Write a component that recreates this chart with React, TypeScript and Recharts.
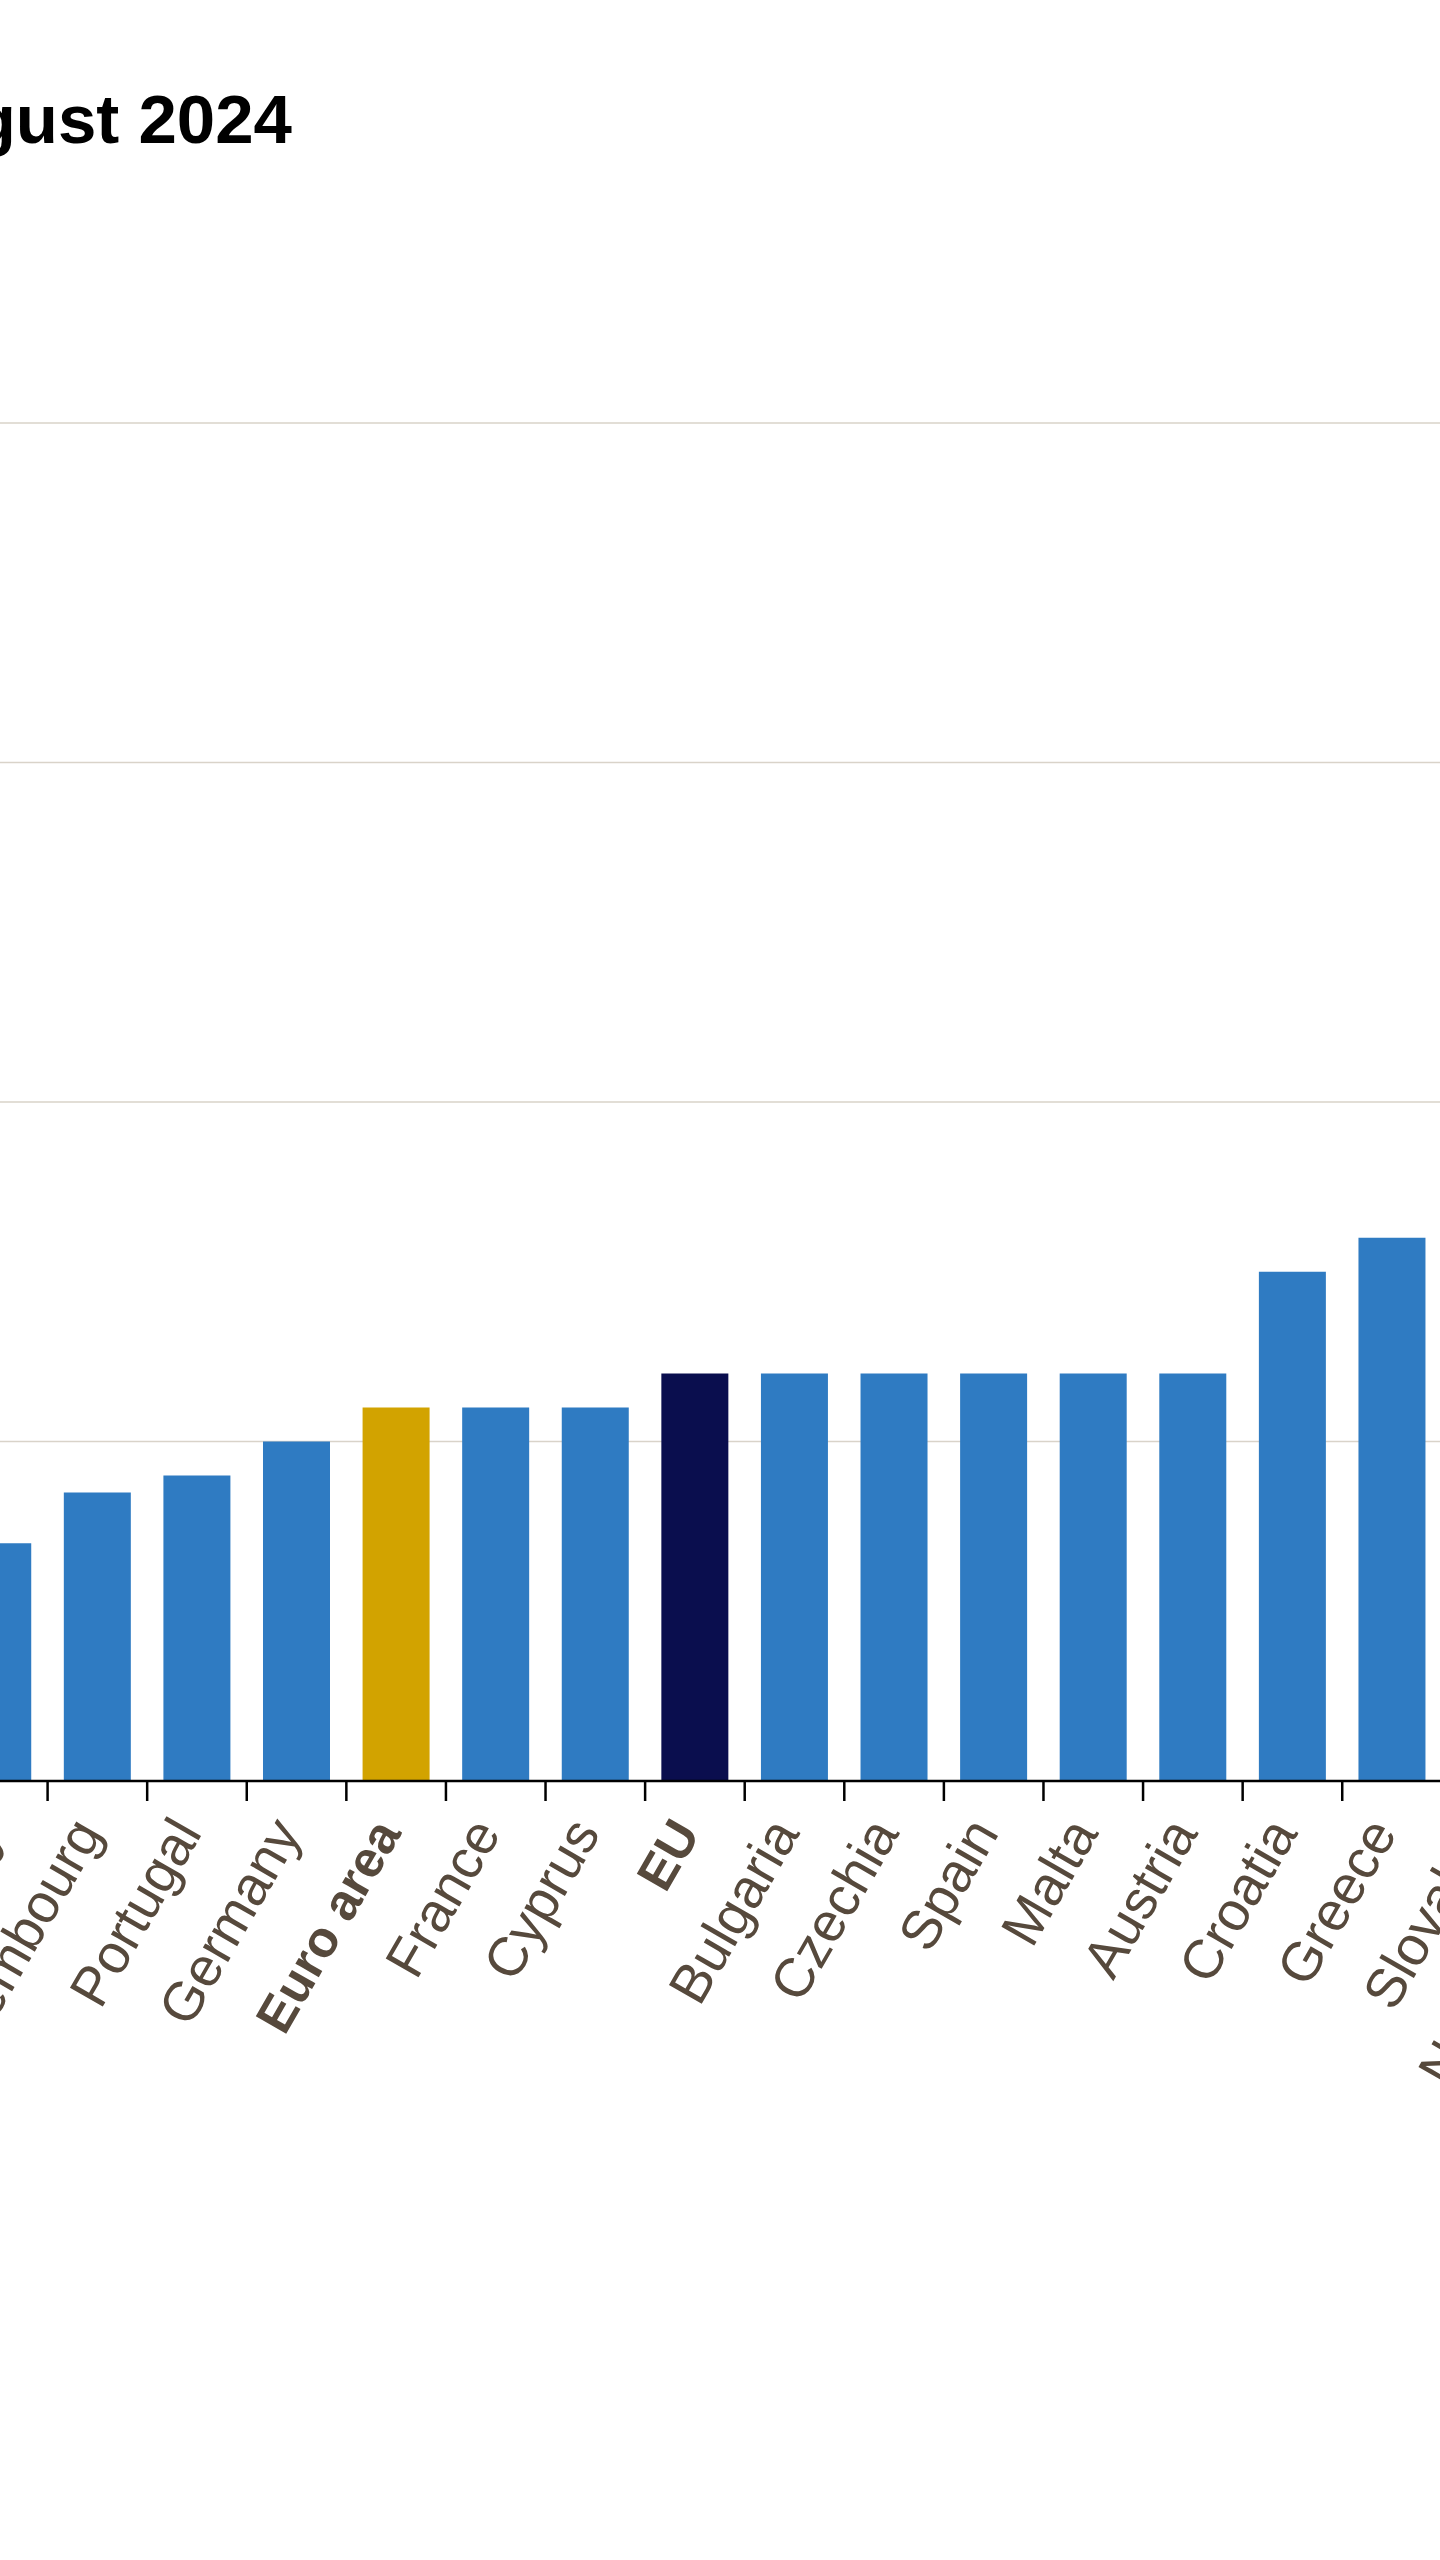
import React from "react";
import { BarChart, Bar, XAxis, YAxis, CartesianGrid, Cell } from "recharts";

const countries = [
  "Italy",
  "Luxembourg",
  "Portugal",
  "Germany",
  "Euro area",
  "France",
  "Cyprus",
  "EU",
  "Bulgaria",
  "Czechia",
  "Spain",
  "Malta",
  "Austria",
  "Croatia",
  "Greece",
  "Slovakia",
  "Netherlands",
];
const rates = [1.4, 1.7, 1.8, 2.0, 2.2, 2.2, 2.2, 2.4, 2.4, 2.4, 2.4, 2.4, 2.4, 3.0, 3.2, 3.2, 3.3];
const yTicks = [0, 2, 4, 6, 8];
const boldLabels = ["EU", "Euro area"];

const data = countries.map((name, i) => ({ name, rate: rates[i] }));

const CHART_W = 1693;
const STEP = CHART_W / countries.length;

const barColor = (name: string) => {
  if (name === "Euro area") return "#d2a300";
  if (name === "EU") return "#0a0e4e";
  return "#2f7bc2";
};

const CountryTick = (props: any) => {
  const { x, y, payload } = props;
  const name = payload.value;
  const bold = boldLabels.includes(name);
  const ax = x + 6;
  const ay = y + 52;
  return (
    <g>
      <line x1={x - STEP / 2} y1={y} x2={x - STEP / 2} y2={y + 20} stroke="#000" strokeWidth={2.5} />
      <text
        x={ax}
        y={ay}
        textAnchor="end"
        transform={`rotate(-60, ${ax}, ${ay})`}
        fontFamily='"Liberation Sans", Arial, sans-serif'
        fontSize={bold ? 51 : 55}
        fontWeight={bold ? 700 : 400}
        fill="#56493c"
      >
        {name}
      </text>
    </g>
  );
};

export default function App() {
  return (
    <div
      style={{
        position: "absolute",
        left: 0,
        top: 0,
        width: 1440,
        height: 2560,
        overflow: "hidden",
        background: "#fff",
      }}
    >
      <div
        style={{
          position: "absolute",
          right: 1148,
          top: 85,
          fontFamily: '"Liberation Sans", Arial, sans-serif',
          fontWeight: 700,
          fontSize: 69,
          lineHeight: 1,
          whiteSpace: "nowrap",
          color: "#000",
        }}
      >
        Annual inflation rates (%), August 2024
      </div>
      <div style={{ position: "absolute", left: -52, top: 413 }}>
        <BarChart
          width={CHART_W}
          height={1768}
          data={data}
          margin={{ top: 10, right: 0, left: 0, bottom: 0 }}
          barCategoryGap="16.3%"
        >
          <CartesianGrid vertical={false} stroke="#d9d3c9" strokeWidth={1.5} />
          <YAxis hide domain={[0, 8]} ticks={yTicks} />
          <XAxis
            dataKey="name"
            interval={0}
            height={400}
            tickSize={0}
            tickMargin={0}
            tickLine={false}
            axisLine={{ stroke: "#000", strokeWidth: 2.5 }}
            tick={<CountryTick />}
          />
          <Bar dataKey="rate" isAnimationActive={false}>
            {data.map((d) => (
              <Cell key={d.name} fill={barColor(d.name)} />
            ))}
          </Bar>
        </BarChart>
      </div>
    </div>
  );
}
